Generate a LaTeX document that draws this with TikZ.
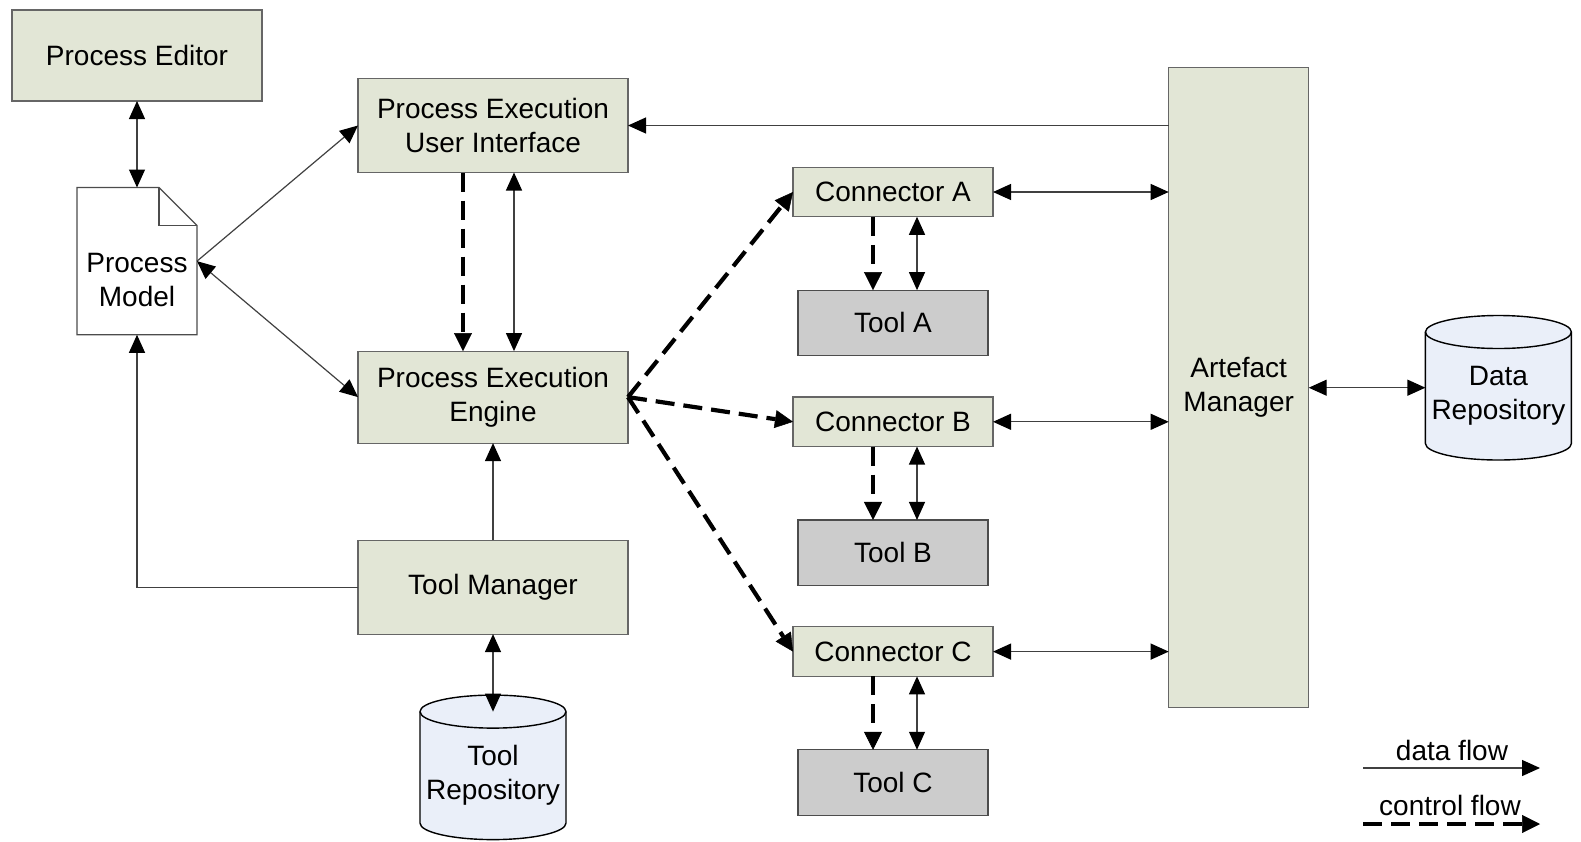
\documentclass[tikz,border=0pt]{standalone}
\usepackage{fontspec}
\setmainfont{Liberation Sans}
\usetikzlibrary{arrows.meta, positioning, calc, backgrounds}
\definecolor{compfill}{RGB}{226,230,214}
\definecolor{toolfill}{RGB}{204,204,204}
\definecolor{repofill}{RGB}{234,239,249}
\tikzset{
  comp box/.style={
    rectangle, draw=black!60, fill=compfill, line width=1.2pt,
    align=center, inner sep=2pt, outer sep=0pt
  },
  conn box/.style={
    comp box, minimum width=200pt, minimum height=49.5pt
  },
  tool box/.style={
    comp box, fill=toolfill, draw=black!70,
    minimum width=190pt, minimum height=65.5pt
  },
  doc body/.style={
    rectangle, align=center, inner sep=0pt, outer sep=0pt,
    minimum width=120pt, minimum height=109.3pt
  },
  doc shape/.style={
    draw=black!70, fill=white, line width=1.2pt
  },
  repo body/.style={
    rectangle, align=center, inner sep=0pt, outer sep=0pt,
    minimum width=146pt, minimum height=128pt
  },
  repo shape/.style={
    draw=black, fill=repofill, line width=1.4pt
  },
  data flow/.style={
    draw=black!75, line width=1.2pt
  },
  ctrl flow/.style={
    draw=black, line width=4.2pt, dash pattern=on 19pt off 9pt,
    -{Triangle[length=18pt,width=18pt,line width=0.5pt]}
  }
}
% cylinder drawn round a repo body node
\newcommand{\repocyl}[1]{%
  \draw[repo shape] (#1.north west) -- ([yshift=16.5pt]#1.south west)
    arc[start angle=180, end angle=360, x radius=73pt, y radius=16.5pt]
    -- (#1.north east)
    arc[start angle=0, end angle=180, x radius=73pt, y radius=16.5pt] -- cycle;
  \draw[repo shape, fill=none] (#1.north west)
    arc[start angle=180, end angle=360, x radius=73pt, y radius=16.5pt];
}

\begin{document}
\begin{tikzpicture}[x=1pt, y=1pt, font=\fontsize{28}{34}\selectfont,
    >={Triangle[length=18pt,width=16pt,color=black]}]
  \useasboundingbox (0,0) rectangle (1581,-841);
  % Left column: editor and model
  \node (pe) [comp box, minimum width=250pt, minimum height=91pt] at (137,-55.5) {Process Editor};
  \node (pm) [doc body, below=124.5pt of pe] {Process\\Model};
  % Middle column: execution and tools
  \node (peui) [comp box, minimum width=270pt, minimum height=94pt] at (493,-125.5) {Process Execution\\User Interface};
  \node (pee) [comp box, minimum width=270pt, minimum height=92pt, below=178.6pt of peui] {Process Execution\\Engine};
  \node (tm) [comp box, minimum width=270pt, minimum height=94pt, below=97pt of pee] {Tool Manager};
  \node (trepo) [repo body, below=77.5pt of tm] {Tool\\Repository};
  % Connectors and tools
  \node (cona) [conn box] at (893,-192) {Connector A};
  \node (toola) [tool box, below=73.4pt of cona] {Tool A};
  \node (conb) [conn box, below=41.4pt of toola] {Connector B};
  \node (toolb) [tool box, below=73.4pt of conb] {Tool B};
  \node (conc) [conn box, below=41.4pt of toolb] {Connector C};
  \node (toolc) [tool box, below=73.4pt of conc] {Tool C};
  % Right: artefacts and data
  \node (am) [comp box, minimum width=140pt, minimum height=640pt] at (1238.7,-387.7) {Artefact\\Manager};
  \node (drepo) [repo body] at (1498.4,-396) {Data\\Repository};

  \begin{scope}[on background layer]
    \draw[doc shape] ([yshift=38pt]pm.north west) -- ([shift={(-38pt,38pt)}]pm.north east)
      -- (pm.north east) -- (pm.south east) -- (pm.south west) -- cycle;
    \draw[doc shape, fill=none] ([shift={(-38pt,38pt)}]pm.north east)
      -- ([xshift=-38pt]pm.north east) -- (pm.north east);
    \repocyl{trepo}
    \repocyl{drepo}
  \end{scope}

  \draw [data flow, <->] (pe.south) -- ([yshift=38pt]pm.north);
  \draw [data flow, ->] ([yshift=19pt]pm.east) -- (peui.west);
  \draw [data flow, <->] ([yshift=19pt]pm.east) -- (pee.west);
  \draw [ctrl flow] ([xshift=-30pt]peui.south) -- ([xshift=-30pt]pee.north);
  \draw [data flow, <->] ([xshift=21pt]peui.south) -- ([xshift=21pt]pee.north);
  \draw [data flow, ->] (tm) -- (pee);
  \draw [data flow, ->] (tm.west) -| (pm.south);
  \draw [data flow, <->] (tm) -- (trepo.north);
  \draw [data flow, ->] (peui.east -| am.west) -- (peui.east);
  \draw [ctrl flow] (pee.east) -- (cona.west);
  \draw [ctrl flow] (pee.east) -- (conb.west);
  \draw [ctrl flow] (pee.east) -- (conc.west);
  \draw [ctrl flow] ([xshift=-20pt]cona.south) -- ([xshift=-20pt]toola.north);
  \draw [data flow, <->] ([xshift=24pt]cona.south) -- ([xshift=24pt]toola.north);
  \draw [ctrl flow] ([xshift=-20pt]conb.south) -- ([xshift=-20pt]toolb.north);
  \draw [data flow, <->] ([xshift=24pt]conb.south) -- ([xshift=24pt]toolb.north);
  \draw [ctrl flow] ([xshift=-20pt]conc.south) -- ([xshift=-20pt]toolc.north);
  \draw [data flow, <->] ([xshift=24pt]conc.south) -- ([xshift=24pt]toolc.north);
  \draw [data flow, <->] (cona.east) -- (cona.east -| am.west);
  \draw [data flow, <->] (conb.east) -- (conb.east -| am.west);
  \draw [data flow, <->] (conc.east) -- (conc.east -| am.west);
  \draw [data flow, <->] (am.east) -- (am.east -| drepo.west);

  % Legend
  \node (ldata) at (1452,-750) {data flow};
  \coordinate (ld1) at (1363,-768);
  \coordinate (ld2) at (1540,-768);
  \draw [data flow, ->] (ld1) -- (ld2);
  \node (lctrl) at (1450,-805) {control flow};
  \coordinate (lc1) at (1363,-824);
  \coordinate (lc2) at (1540,-824);
  \draw [ctrl flow] (lc1) -- (lc2);
\end{tikzpicture}
\end{document}
